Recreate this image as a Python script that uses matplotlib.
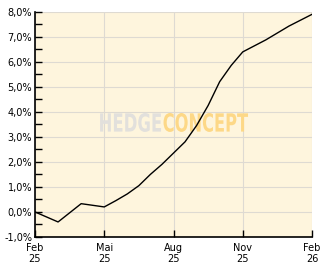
import numpy as np
import matplotlib.pyplot as plt
from matplotlib.ticker import MultipleLocator
from matplotlib.textpath import TextPath
from matplotlib.patches import PathPatch
from matplotlib.font_manager import FontProperties
from matplotlib.transforms import Affine2D

# Daten (Monatsindex ab Feb 25, Rendite in %)
month_pos = [0, 1, 2, 3, 3.5, 4, 4.5, 5, 5.5, 6, 6.5, 7, 7.5, 8, 8.5, 9, 10, 11, 12]
perf = [0.0, -0.4, 0.33, 0.2, 0.45, 0.72, 1.05, 1.5, 1.9, 2.35, 2.8, 3.45,
        4.25, 5.2, 5.85, 6.39, 6.87, 7.42, 7.89]

tick_pos = [0, 3, 6, 9, 12]
tick_lab = ["Feb\n25", "Mai\n25", "Aug\n25", "Nov\n25", "Feb\n26"]
y_ticks = np.arange(-1, 9, 1)

fig = plt.figure(figsize=(3.32, 2.69), dpi=100)
ax = fig.add_axes([0.1054, 0.119, 0.8344, 0.838])
ax.set_facecolor("#fef5dd")


def watermark(txt, x0, x1, y0, y1, col):
    # Schrift auf festen Kasten (Achsenbruchteile) strecken
    tp = TextPath((0, 0), txt, size=10, prop=FontProperties(family="DejaVu Sans", weight="bold"))
    ext = tp.get_extents()
    tr = Affine2D().translate(-ext.x0, -ext.y0).scale((x1 - x0) / ext.width, (y1 - y0) / ext.height).translate(x0, y0)
    ax.add_patch(PathPatch(tr.transform_path(tp), transform=ax.transAxes,
                           facecolor=col, edgecolor="none", zorder=1))


watermark("HEDGE", 0.235, 0.455, 0.466, 0.55, "#e2e0dc")
watermark("CONCEPT", 0.464, 0.769, 0.466, 0.55, "#fdd887")

ax.plot(month_pos, perf, color="black", lw=1.0, zorder=3)

ax.set_xlim(0, 12)
ax.set_ylim(-1, 8)
ax.set_xticks(tick_pos)
ax.set_xticklabels(tick_lab)
ax.set_yticks(y_ticks)
ax.set_yticklabels([("%.1f%%" % v).replace(".", ",") for v in y_ticks])
ax.yaxis.set_minor_locator(MultipleLocator(0.5))

ax.grid(True, color="#dedad2", lw=0.8, zorder=0)
ax.set_axisbelow(True)
for s in ["top", "right"]:
    ax.spines[s].set_visible(False)
for s in ["left", "bottom"]:
    ax.spines[s].set_color("black")
    ax.spines[s].set_linewidth(1.2)

ax.tick_params(axis="both", which="both", direction="in", length=5, width=1,
               labelsize=7, colors="black")
ax.tick_params(axis="y", pad=2)
ax.tick_params(axis="x", pad=4)

fig.savefig("out.png", dpi=100, facecolor="white")
